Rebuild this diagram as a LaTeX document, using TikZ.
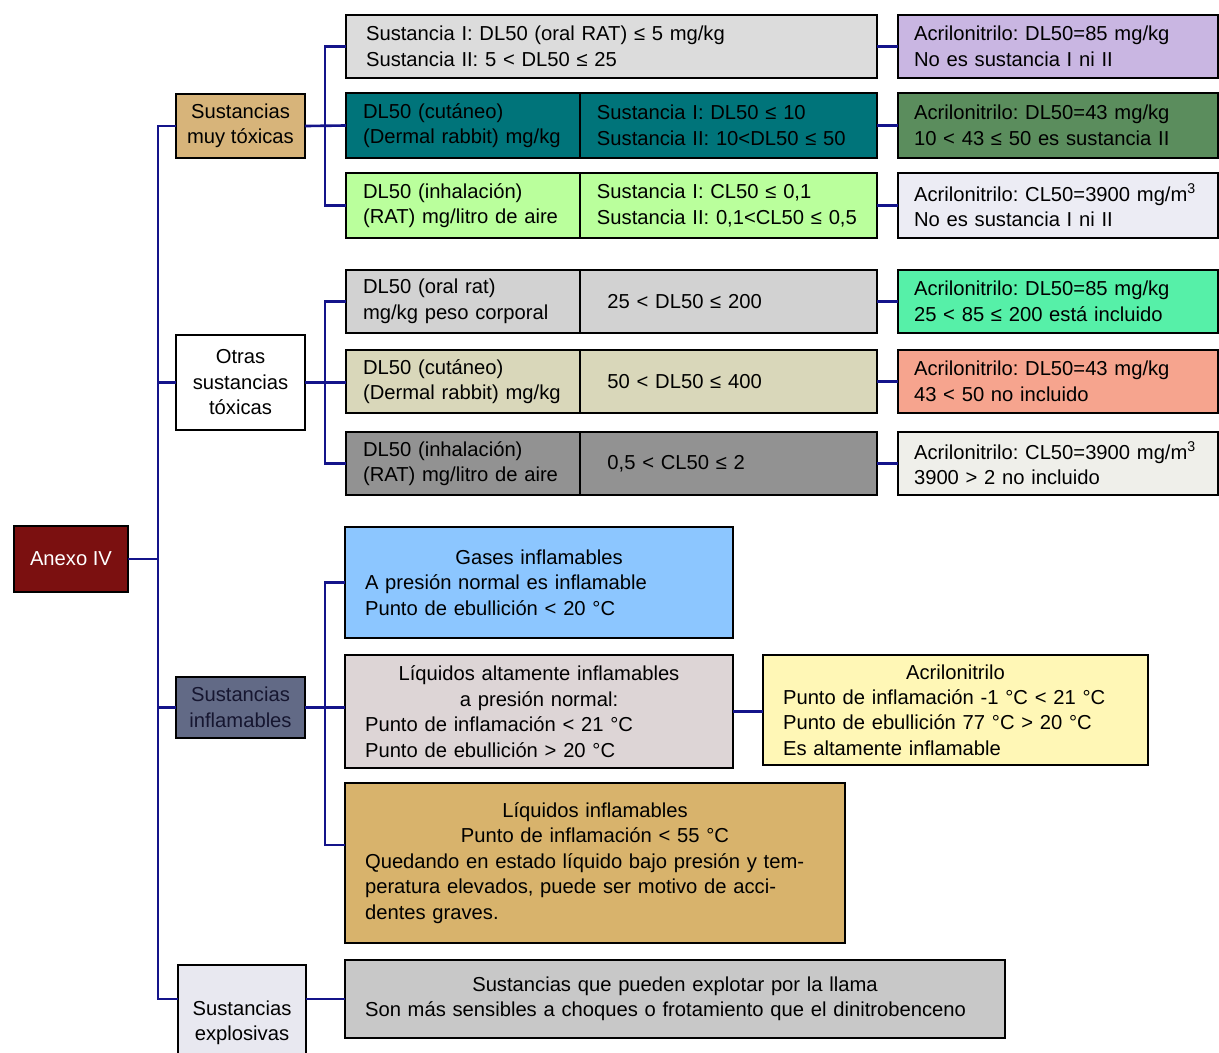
\documentclass[tikz,border=0pt]{standalone}
\usepackage{fontspec}
\setmainfont{Liberation Sans}
\usetikzlibrary{positioning}
\frenchspacing

\definecolor{linkblue}{HTML}{14148A}
\definecolor{anexored}{HTML}{7B1010}
\definecolor{muytoxfill}{HTML}{D7B47A}
\definecolor{inflamfill}{HTML}{626A86}
\definecolor{inflamtext}{HTML}{161630}
\definecolor{explosfill}{HTML}{E8E8F0}
\definecolor{grayfill}{HTML}{DCDCDC}
\definecolor{tealfill}{HTML}{00747A}
\definecolor{greenfill}{HTML}{BAFF9C}
\definecolor{lavfill}{HTML}{C9B6E2}
\definecolor{darkgreenfill}{HTML}{5B8D5D}
\definecolor{palefill}{HTML}{ECECF4}
\definecolor{oralfill}{HTML}{D2D2D2}
\definecolor{beigefill}{HTML}{D9D7BA}
\definecolor{midgrayfill}{HTML}{929292}
\definecolor{mintfill}{HTML}{56F0A8}
\definecolor{salmonfill}{HTML}{F6A48E}
\definecolor{creamfill}{HTML}{EFEFEA}
\definecolor{bluefill}{HTML}{8CC6FF}
\definecolor{mauvefill}{HTML}{DDD5D6}
\definecolor{yellowfill}{HTML}{FFF7B6}
\definecolor{tanfill}{HTML}{D8B36C}
\definecolor{explgray}{HTML}{C8C8C8}

\begin{document}
\begin{tikzpicture}[x=0.02cm, y=-0.02cm,
  box/.style={draw=black, line width=1.6pt, inner ysep=0pt, outer sep=0pt,
    font=\fontsize{11.5}{14.5}\selectfont},
  cell/.style={box, align=left, inner xsep=0.4cm},
  head/.style={box, align=center, inner xsep=0pt},
  link/.style={draw=linkblue, line width=1.5pt}]

\useasboundingbox (0,0) rectangle (1219,1052);
\clip (0,0) rectangle (1219,1052);

% first and second level
{
\node[head, fill=anexored, text=white, minimum width=2.28cm, minimum height=1.32cm] (anexo) at (71,559) {Anexo IV};

\node[head, fill=muytoxfill, minimum width=2.58cm, minimum height=1.28cm] (muytox) at (240.5,126) {Sustancias\\muy tóxicas};
\node[head, fill=white, minimum width=2.58cm, minimum height=1.9cm] (otras) at (240.5,382.5) {Otras\\sustancias\\tóxicas};
\node[head, fill=inflamfill, text=inflamtext, minimum width=2.58cm, minimum height=1.22cm] (inflam) at (240.5,707.5) {Sustancias\\inflamables};
\node[head, fill=explosfill, minimum width=2.56cm, minimum height=2.32cm] (explos) at (242,1023) {Sustancias\\explosivas};
}

% sustancias muy toxicas
{
\node[cell, fill=grayfill, text width=9.82cm, minimum height=1.26cm] (A1) at (611.5,46.5)
{Sustancia I: DL50 (oral RAT) ≤ 5 mg/kg\\Sustancia II: 5 < DL50 ≤ 25};

\node[cell, inner xsep=0.34cm, fill=tealfill, text width=4.0cm, minimum height=1.3cm] (A2a) at (463,125.5)
{DL50 (cutáneo)\\(Dermal rabbit) mg/kg};
\node[cell, inner xsep=0.34cm, fill=tealfill, text width=5.26cm, minimum height=1.3cm, right=0pt of A2a] (A2b)
{Sustancia I: DL50 ≤ 10\\Sustancia II: 10<DL50 ≤ 50};

\node[cell, inner xsep=0.34cm, fill=greenfill, text width=4.0cm, minimum height=1.3cm] (A3a) at (463,205.5)
{DL50 (inhalación)\\(RAT) mg/litro de aire};
\node[cell, inner xsep=0.34cm, fill=greenfill, text width=5.26cm, minimum height=1.3cm, right=0pt of A3a] (A3b)
{Sustancia I: CL50 ≤ 0,1\\Sustancia II: 0,1<CL50 ≤ 0,5};

\node[cell, inner xsep=0.32cm, fill=lavfill, text width=5.76cm, minimum height=1.26cm] (R1) at (1058,46.5)
{Acrilonitrilo: DL50=85 mg/kg\\No es sustancia I ni II};
\node[cell, inner xsep=0.32cm, fill=darkgreenfill, text width=5.76cm, minimum height=1.3cm] (R2) at (1058,125.5)
{Acrilonitrilo: DL50=43 mg/kg\\10 < 43 ≤ 50 es sustancia II};
\node[cell, inner xsep=0.32cm, fill=palefill, text width=5.76cm, minimum height=1.3cm] (R3) at (1058,205.5)
{Acrilonitrilo: CL50=3900 mg/m\textsuperscript{3}\\No es sustancia I ni II};
}

% otras sustancias toxicas
{
\node[cell, inner xsep=0.34cm, fill=oralfill, text width=4.0cm, minimum height=1.26cm] (B1a) at (463,301.5)
{DL50 (oral rat)\\mg/kg peso corporal};
\node[cell, inner xsep=0.55cm, fill=oralfill, text width=4.84cm, minimum height=1.26cm, right=0pt of B1a] (B1b)
{25 < DL50 ≤ 200};

\node[cell, inner xsep=0.34cm, fill=beigefill, text width=4.0cm, minimum height=1.26cm] (B2a) at (463,381.5)
{DL50 (cutáneo)\\(Dermal rabbit) mg/kg};
\node[cell, inner xsep=0.55cm, fill=beigefill, text width=4.84cm, minimum height=1.26cm, right=0pt of B2a] (B2b)
{50 < DL50 ≤ 400};

\node[cell, inner xsep=0.34cm, fill=midgrayfill, text width=4.0cm, minimum height=1.26cm] (B3a) at (463,463.5)
{DL50 (inhalación)\\(RAT) mg/litro de aire};
\node[cell, inner xsep=0.55cm, fill=midgrayfill, text width=4.84cm, minimum height=1.26cm, right=0pt of B3a] (B3b)
{0,5 < CL50 ≤ 2};

\node[cell, inner xsep=0.32cm, fill=mintfill, text width=5.76cm, minimum height=1.26cm] (S1) at (1058,301.5)
{Acrilonitrilo: DL50=85 mg/kg\\25 < 85 ≤ 200 está incluido};
\node[cell, inner xsep=0.32cm, fill=salmonfill, text width=5.76cm, minimum height=1.26cm] (S2) at (1058,381.5)
{Acrilonitrilo: DL50=43 mg/kg\\43 < 50 no incluido};
\node[cell, inner xsep=0.32cm, fill=creamfill, text width=5.76cm, minimum height=1.26cm] (S3) at (1058,463.5)
{Acrilonitrilo: CL50=3900 mg/m\textsuperscript{3}\\3900 > 2 no incluido};
}

% sustancias inflamables
{
\node[cell, fill=bluefill, text width=6.96cm, minimum height=2.22cm] (C1) at (539,582.5)
{\makebox[\linewidth][c]{Gases inflamables}\\A presión normal es inflamable\\Punto de ebullición < 20 °C};

\node[cell, fill=mauvefill, text width=6.96cm, minimum height=2.26cm] (C2) at (539,711.5)
{\makebox[\linewidth][c]{Líquidos altamente inflamables}\\\makebox[\linewidth][c]{a presión normal:}\\Punto de inflamación < 21 °C\\Punto de ebullición > 20 °C};

\node[cell, fill=yellowfill, text width=6.9cm, minimum height=2.2cm] (Y) at (955.5,710)
{\makebox[\linewidth][c]{Acrilonitrilo}\\Punto de inflamación -1 °C < 21 °C\\Punto de ebullición 77 °C > 20 °C\\Es altamente inflamable};

\node[cell, fill=tanfill, text width=9.2cm, minimum height=3.2cm] (C3) at (595,863)
{\makebox[\linewidth][c]{Líquidos inflamables}\\\makebox[\linewidth][c]{Punto de inflamación < 55 °C}\\Quedando en estado líquido bajo presión y tem-\\peratura elevados, puede ser motivo de acci-\\dentes graves.};
}

% sustancias explosivas
\node[cell, fill=explgray, text width=12.4cm, minimum height=1.56cm] (D) at (675,999)
{\makebox[\linewidth][c]{Sustancias que pueden explotar por la llama}\\Son más sensibles a choques o frotamiento que el dinitrobenceno};

% connectors
\coordinate (trunk) at (158,559);
\coordinate (forkA) at (325,126);
\coordinate (forkB) at (325,382.5);
\coordinate (forkC) at (325,707.5);
\coordinate (c3in) at (345,845);

\draw[link] (anexo.east) -- (trunk);
\draw[link] (muytox.west) -| (trunk) |- (explos.west |- D.west);
\draw[link] (otras.west) -- (otras.west -| trunk);
\draw[link] (inflam.west) -- (inflam.west -| trunk);
\draw[link] (explos.east |- D.west) -- (D.west);

\draw[link] (A1.west) -| (forkA) |- (A3a.west);
\draw[link] (muytox.east) -- (A2a.west);
\draw[link] (A1.east) -- (R1.west);
\draw[link] (A2b.east) -- (R2.west);
\draw[link] (A3b.east) -- (R3.west);

\draw[link] (B1a.west) -| (forkB) |- (B3a.west);
\draw[link] (otras.east) -- (otras.east -| B2a.west);
\draw[link] (B1b.east) -- (S1.west);
\draw[link] (B2b.east) -- (S2.west);
\draw[link] (B3b.east) -- (S3.west);

\draw[link] (C1.west) -| (forkC) |- (c3in);
\draw[link] (inflam.east) -- (inflam.east -| C2.west);
\draw[link] (C2.east) -- (C2.east -| Y.west);

\end{tikzpicture}
\end{document}
